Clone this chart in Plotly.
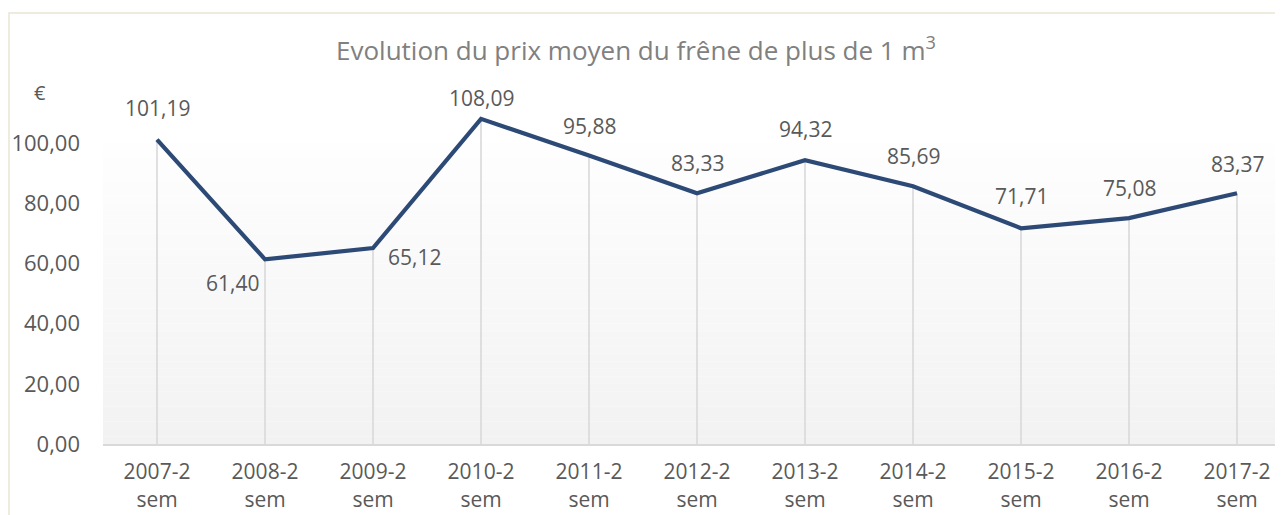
import plotly.graph_objects as go

categories = ["2007-2<br>sem", "2008-2<br>sem", "2009-2<br>sem", "2010-2<br>sem", "2011-2<br>sem",
              "2012-2<br>sem", "2013-2<br>sem", "2014-2<br>sem", "2015-2<br>sem", "2016-2<br>sem",
              "2017-2<br>sem"]
prices = [101.19, 61.40, 65.12, 108.09, 95.88, 83.33, 94.32, 85.69, 71.71, 75.08, 83.37]
label_texts = ["101,19", "61,40", "65,12", "108,09", "95,88", "83,33", "94,32", "85,69", "71,71", "75,08", "83,37"]
y_ticks = [0, 20, 40, 60, 80, 100]
title_text = "Evolution du prix moyen du frêne de plus de 1 m<sup>3</sup>"
unit_label = "€"

# label placement styling (pixel offsets relative to each point)
label_dx = [0, -33, 41, 0, 0, 0, 0, 0, 0, 0, 0]
label_dy = [32, -24, -9, 21, 30, 30, 31, 30, 32, 30, 29]

FONT = "Open Sans"
TXT = "#595959"
LINE = "#2C4A75"

# page body has an 8px margin: figure geometry is expressed relative to the figure origin
OFF = 8
W, H = 1283 - OFF, 515 - OFF
L, T = 103 - OFF, 83 - OFF
B = H - (444 - OFF)
PW, PH = W - L, (444 - OFF) - T

idx = list(range(len(categories)))

fig = go.Figure()

# drop lines from each point to the axis
fig.add_trace(go.Scatter(
    x=idx, y=prices, mode="markers",
    marker=dict(size=1, opacity=0),
    error_y=dict(type="data", symmetric=False, array=[0] * len(prices), arrayminus=prices,
                 color="#D9D9D9", thickness=1.6, width=0),
    hoverinfo="skip", showlegend=False, cliponaxis=False,
))

fig.add_trace(go.Scatter(
    x=idx, y=prices, mode="lines",
    line=dict(color=LINE, width=4.2),
    showlegend=False, cliponaxis=False,
))

# gradient background of the plot area
n = 40
shapes = []
top = y_ticks[-1]
for i in range(n):
    y0 = top * i / n
    y1 = top * (i + 1) / n
    t = (i + 0.5) / n
    c = int(round(242 + (254 - 242) * t))
    shapes.append(dict(type="rect", xref="paper", yref="y", x0=0, x1=1, y0=y0, y1=y1,
                       fillcolor=f"rgb({c},{c},{c})", line=dict(width=0), layer="below"))


def px_x(px):
    return (px - OFF - L) / PW


def px_y(py):
    return 1 - (py - OFF - T) / PH


# outer chart border (light beige)
shapes.append(dict(type="rect", xref="paper", yref="paper", x0=px_x(9), x1=px_x(1400),
                   y0=px_y(700), y1=px_y(13),
                   line=dict(color="#EAE5D3", width=1.5), fillcolor="rgba(0,0,0,0)", layer="below"))

annotations = []
for i, (v, t) in enumerate(zip(prices, label_texts)):
    annotations.append(dict(x=i, y=v, xref="x", yref="y", text=t, showarrow=False,
                            xshift=label_dx[i], yshift=label_dy[i],
                            font=dict(family=FONT, size=21, color=TXT),
                            xanchor="center", yanchor="middle"))

annotations.append(dict(xref="paper", yref="paper", x=px_x(40), y=px_y(93), text=unit_label,
                        showarrow=False, font=dict(family=FONT, size=20, color=TXT),
                        xanchor="center", yanchor="middle"))

annotations.append(dict(xref="paper", yref="paper", x=px_x(636), y=px_y(49), text=title_text,
                        showarrow=False, font=dict(family=FONT, size=26, color="#808080"),
                        xanchor="center", yanchor="middle"))

fig.update_layout(
    width=W, height=H,
    margin=dict(l=L, r=0, t=T, b=B, autoexpand=False),
    paper_bgcolor="white", plot_bgcolor="white",
    separators=", ",
    shapes=shapes, annotations=annotations,
    font=dict(family=FONT, size=20, color=TXT),
    xaxis=dict(
        range=[-0.5, -0.5 + PW / 108], automargin=False,
        tickmode="array", tickvals=idx, ticktext=categories,
        showgrid=False, zeroline=False, showline=True, linecolor="#D9D9D9", linewidth=2,
        ticks="", tickfont=dict(family=FONT, size=21, color=TXT),
        ticklabelstandoff=8,
    ),
    yaxis=dict(
        range=[0, 120], automargin=False,
        tickmode="array", tickvals=y_ticks, tickformat=".2f",
        showgrid=False, zeroline=False, showline=False, ticks="",
        tickfont=dict(family=FONT, size=22, color=TXT),
        ticklabelstandoff=22,
    ),
)

fig.write_html("out.html")
